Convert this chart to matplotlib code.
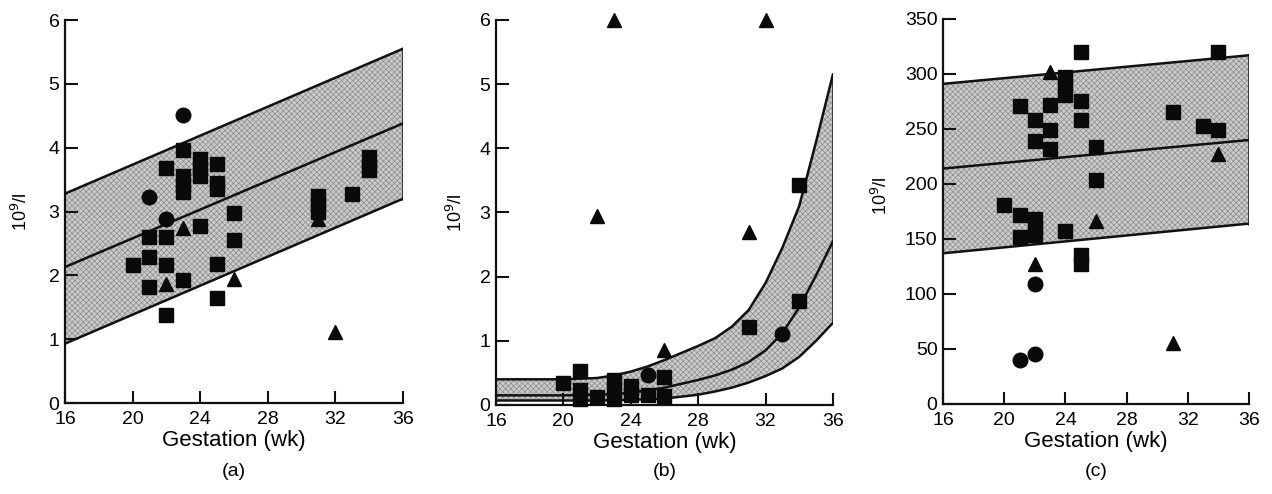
import numpy as np
import matplotlib
matplotlib.use("Agg")
import matplotlib.pyplot as plt

plt.rcParams["font.family"] = ["Liberation Sans", "DejaVu Sans"]
plt.rcParams["hatch.linewidth"] = 0.5
plt.rcParams["hatch.color"] = "#8c8c8c"

# ── Data ──────────────────────────────────────────────────────────────────────
X_TICKS = [16, 20, 24, 28, 32, 36]

# panel (a)
a_band_x = [16, 36]
a_upper  = [3.28, 5.55]
a_center = [2.13, 4.38]
a_lower  = [0.93, 3.20]
a_sq_x = [20, 21, 21, 21, 22, 22, 22, 22, 23, 23, 23, 23, 23, 24, 24, 24, 24,
          25, 25, 25, 25, 25, 26, 26, 31, 31, 31, 33, 34, 34, 34]
a_sq_y = [2.16, 2.60, 2.29, 1.82, 3.68, 2.60, 2.16, 1.38, 3.96, 3.55, 3.42, 3.30, 1.93,
          3.82, 3.68, 3.55, 2.77, 3.75, 3.45, 3.35, 2.17, 1.64, 2.97, 2.55,
          3.25, 3.12, 3.00, 3.27, 3.85, 3.72, 3.65]
a_ci_x = [23, 21, 22]
a_ci_y = [4.51, 3.23, 2.89]
a_tr_x = [23, 22, 26, 31, 32]
a_tr_y = [2.74, 1.86, 1.95, 2.88, 1.12]

# panel (b)
b_band_x = [16, 18, 20, 22, 23, 24, 25, 26, 27, 28, 29, 30, 31, 32, 33, 34, 35, 36]
b_upper  = [0.40, 0.40, 0.40, 0.42, 0.46, 0.52, 0.60, 0.70, 0.81, 0.92, 1.04, 1.22, 1.48,
            1.90, 2.45, 3.10, 4.10, 5.15]
b_center = [0.15, 0.15, 0.15, 0.16, 0.17, 0.19, 0.23, 0.27, 0.33, 0.39, 0.46, 0.55, 0.67,
            0.85, 1.12, 1.52, 2.02, 2.55]
b_lower  = [0.07, 0.07, 0.07, 0.07, 0.075, 0.08, 0.09, 0.10, 0.13, 0.16, 0.21, 0.27, 0.35,
            0.45, 0.57, 0.75, 1.00, 1.28]
b_sq_x = [20, 21, 21, 21, 22, 23, 23, 23, 24, 24, 25, 26, 26, 31, 34, 34]
b_sq_y = [0.34, 0.53, 0.23, 0.10, 0.13, 0.39, 0.23, 0.10, 0.29, 0.16, 0.16, 0.44, 0.14,
          1.22, 3.43, 1.62]
b_ci_x = [25, 33]
b_ci_y = [0.47, 1.10]
b_tr_x = [23, 32, 22, 31, 26]
b_tr_y = [6.0, 6.0, 2.95, 2.70, 0.85]

# panel (c)
c_band_x = [16, 36]
c_upper  = [291, 317]
c_center = [214, 240]
c_lower  = [137, 164]
c_sq_x = [20, 21, 21, 21, 22, 22, 22, 22, 22, 23, 23, 23, 24, 24, 24, 24,
          25, 25, 25, 25, 25, 26, 26, 31, 33, 34, 34]
c_sq_y = [181, 271, 172, 152, 258, 239, 168, 160, 154, 272, 249, 232, 297, 289, 281, 157,
          320, 275, 258, 135, 127, 234, 204, 265, 253, 249, 320]
c_ci_x = [21, 22, 22]
c_ci_y = [40, 45, 109]
c_tr_x = [23, 22, 26, 34, 31]
c_tr_y = [302, 127, 166, 227, 55]

# ── Figure ────────────────────────────────────────────────────────────────────
fig = plt.figure(figsize=(12.72, 4.94), dpi=100)

panels = [
    dict(pos=[0.0511, 0.1842, 0.2657, 0.7753], bx=a_band_x, up=a_upper, mid=a_center, lo=a_lower,
         sq=(a_sq_x, a_sq_y), ci=(a_ci_x, a_ci_y), tr=(a_tr_x, a_tr_y),
         ylim=(0, 6), yticks=range(0, 7), lab="(a)", ylab_xy=(-0.10, 0.50)),
    dict(pos=[0.3899, 0.1802, 0.2649, 0.7794], bx=b_band_x, up=b_upper, mid=b_center, lo=b_lower,
         sq=(b_sq_x, b_sq_y), ci=(b_ci_x, b_ci_y), tr=(b_tr_x, b_tr_y),
         ylim=(0, 6), yticks=range(0, 7), lab="(b)", ylab_xy=(-0.09, 0.50)),
    dict(pos=[0.7414, 0.1822, 0.2406, 0.7794], bx=c_band_x, up=c_upper, mid=c_center, lo=c_lower,
         sq=(c_sq_x, c_sq_y), ci=(c_ci_x, c_ci_y), tr=(c_tr_x, c_tr_y),
         ylim=(0, 350), yticks=range(0, 351, 50), lab="(c)", ylab_xy=(-0.17, 0.54)),
]

for p in panels:
    ax = fig.add_axes(p["pos"])
    ax.fill_between(p["bx"], p["lo"], p["up"], facecolor="#cbcbcb", edgecolor="none",
                    hatch="xxxxxx", lw=0, zorder=1)
    ax.plot(p["bx"], p["up"], color="#111111", lw=1.8, zorder=2)
    ax.plot(p["bx"], p["mid"], color="#111111", lw=1.8, zorder=2)
    ax.plot(p["bx"], p["lo"], color="#111111", lw=1.8, zorder=2)
    ax.plot([p["bx"][-1], p["bx"][-1]], [p["lo"][-1], p["up"][-1]], color="#111111", lw=1.8, zorder=2)

    ax.plot(*p["sq"], ls="none", marker="s", ms=9.5, color="#0a0a0a", zorder=3, clip_on=False)
    ax.plot(*p["ci"], ls="none", marker="o", ms=10.5, color="#0a0a0a", zorder=3, clip_on=False)
    ax.plot(*p["tr"], ls="none", marker="^", ms=9.5, color="#0a0a0a", zorder=3, clip_on=False)

    ax.set_xlim(16, 36)
    ax.set_ylim(*p["ylim"])
    ax.set_xticks(X_TICKS)
    ax.set_yticks(list(p["yticks"]))
    for s in ["top", "right"]:
        ax.spines[s].set_visible(False)
    for s in ["left", "bottom"]:
        ax.spines[s].set_linewidth(1.6)
        ax.spines[s].set_color("#111111")
    ax.tick_params(direction="in", length=9, width=1.5, labelsize=14, color="#111111")
    ax.tick_params(axis="y", pad=4)
    ax.tick_params(axis="x", pad=6)
    ax.set_xlabel("Gestation (wk)", fontsize=16, labelpad=1)
    ax.set_ylabel("10$^{9}$/l", fontsize=13)
    ax.yaxis.set_label_coords(*p["ylab_xy"])

    pos = p["pos"]
    fig.text(pos[0] + pos[2] / 2, 0.045, p["lab"], ha="center", va="center", fontsize=14)

fig.savefig("out.png", dpi=100)
